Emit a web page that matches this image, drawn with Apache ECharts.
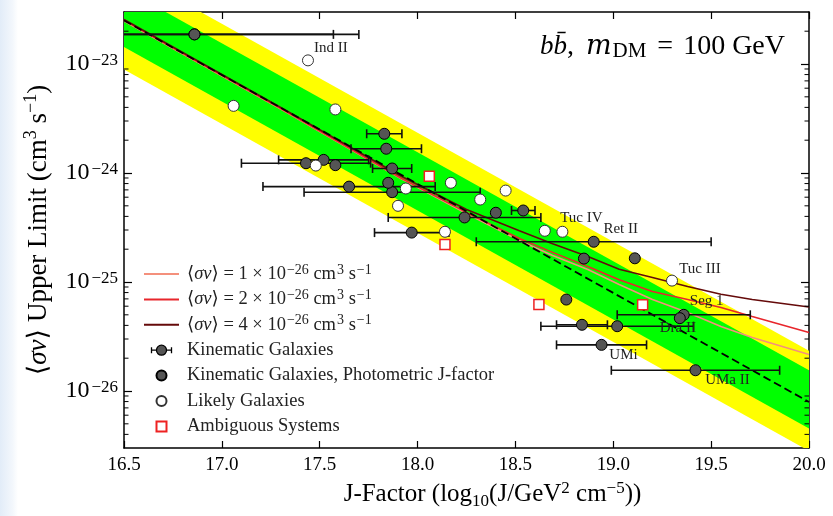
<!DOCTYPE html>
<html>
<head>
<meta charset="utf-8">
<script src="https://cdn.jsdelivr.net/npm/echarts@6/dist/echarts.min.js"></script>
<style>
  html, body { margin: 0; padding: 0; background: #ffffff; }
  #chart { width: 833px; height: 516px; }
</style>
</head>
<body>
<div id="chart"></div>
<script>
// ---- J-factor axis (log10 J / GeV^2 cm^-5) ----
const jMin = 16.5, jMax = 20.0, jStep = 0.5;
// ---- <sigma v> axis (cm^3 s^-1) ----
const svMin = 3e-27, svMax = 3e-23;

// Expected sensitivity bands: values at the two J-factor ends
const bandJ          = [16.5, 20.0];
const yellowUpper    = [7.4e-23, 2.34e-26];
const greenUpper     = [4.9e-23, 1.55e-26];
const medianExpected = [2.51e-23, 7.94e-27];
const greenLower     = [1.43e-23, 4.52e-27];
const yellowLower    = [8.9e-24, 2.82e-27];

// Cross-section curves sampled along J
const curveJ   = [16.5, 17.31, 17.91, 18.25, 18.52, 18.69, 18.87, 19.03, 19.2, 19.38, 19.55, 19.71, 20.0];
const curveSv1 = [2.48e-23, 3.78e-24, 8.99e-25, 4.25e-25, 2.40e-25, 1.75e-25, 1.30e-25, 9.48e-26, 6.90e-26, 5.25e-26, 3.91e-26, 3.10e-26, 2.16e-26];
const curveSv2 = [2.52e-23, 3.83e-24, 9.10e-25, 4.35e-25, 2.51e-25, 1.87e-25, 1.39e-25, 1.05e-25, 8.18e-26, 6.90e-26, 5.83e-26, 4.82e-26, 3.44e-26];
const curveSv4 = [2.56e-23, 3.91e-24, 9.48e-25, 4.62e-25, 2.95e-25, 2.24e-25, 1.71e-25, 1.31e-25, 1.10e-25, 9.10e-26, 7.71e-26, 6.92e-26, 5.90e-26];

// Kinematic galaxies (with J-factor uncertainties)
const kinJ    = [16.86, 16.86, 17.43, 17.52, 17.65, 17.83, 17.84, 17.87, 17.87, 17.97, 18.24, 18.54, 18.84, 18.90, 18.94, 19.02, 19.36, 19.42];
const kinSv   = [1.87e-23, 1.87e-23, 1.23e-24, 1.32e-24, 7.5e-25, 2.29e-24, 1.67e-24, 1.10e-24, 6.67e-25, 2.84e-25, 3.91e-25, 4.53e-25, 4.05e-26, 2.34e-25, 2.65e-26, 3.93e-26, 5.0e-26, 1.55e-26];
const kinJErr = [0.71, 0.84, 0.33, 0.23, 0.44, 0.09, 0.18, 0.10, 0.45, 0.19, 0.39, 0.06, 0.13, 0.60, 0.23, 0.39, 0.34, 0.43];
const kinNames = ['', '', '', '', '', '', '', '', '', '', '', '', '', 'Ret II', 'UMi', '', 'Seg 1', 'UMa II'];

// Kinematic galaxies with photometric J-factor
const photJ  = [17.58, 17.85, 18.40, 18.85, 19.11, 18.76, 19.34];
const photSv = [1.18e-24, 8.13e-25, 4.32e-25, 1.64e-25, 1.65e-25, 6.9e-26, 4.66e-26];
const photNames = ['', '', '', '', '', '', 'Dra II'];

// Likely galaxies
const likJ  = [17.44, 17.06, 17.58, 17.48, 17.94, 17.90, 18.17, 18.45, 18.32, 18.14, 18.65, 18.74, 19.30];
const likSv = [1.08e-23, 4.13e-24, 3.83e-24, 1.17e-24, 7.21e-25, 5.0e-25, 8.13e-25, 6.9e-25, 5.71e-25, 2.89e-25, 2.95e-25, 2.89e-25, 1.03e-25];
const likNames = ['Ind II', '', '', '', '', '', '', '', '', '', '', 'Tuc IV', 'Tuc III'];

// Ambiguous systems
const ambJ  = [18.06, 18.14, 18.62, 19.15];
const ambSv = [9.35e-25, 2.21e-25, 6.22e-26, 6.18e-26];

// ---- styling ----
const SERIF = "'Liberation Serif', 'DejaVu Serif', serif";
const labelOffsets = {
  'Ind II': [23, -12], 'Tuc IV': [19, -14], 'Ret II': [27, -13], 'Tuc III': [28, -12],
  'Seg 1': [23, -14], 'Dra II': [-2, 10], 'UMi': [22, 10], 'UMa II': [32, 10]
};
const C1 = '#f4907c', C2 = '#e8262c', C4 = '#650a0a';

const legendRich = {
  'sv1': '⟨{i|σv}⟩ = 1 × 10{s|−26} cm{s|3} s{s|−1}',
  'sv2': '⟨{i|σv}⟩ = 2 × 10{s|−26} cm{s|3} s{s|−1}',
  'sv4': '⟨{i|σv}⟩ = 4 × 10{s|−26} cm{s|3} s{s|−1}'
};
const lineIcon = 'path://M0,0H35V2H0Z';

function pts(xs, ys, names) {
  return xs.map((x, i) => {
    const item = { value: [x, ys[i]] };
    const nm = names && names[i];
    if (nm) {
      item.label = { show: true, formatter: nm, position: 'inside', offset: labelOffsets[nm],
        fontFamily: SERIF, fontSize: 15, color: '#222' };
    }
    return item;
  });
}

// minor tick positions on the log axis (2..9 x 10^n)
const minorTicks = [];
for (let n = -27; n <= -23; n++) {
  for (let k = 2; k <= 9; k++) {
    const v = k * Math.pow(10, n);
    if (v > svMin * 1.0001 && v < svMax * 0.9999) minorTicks.push(v);
  }
}

const chart = echarts.init(document.getElementById('chart'), null, { renderer: 'canvas' });

const axisLineStyle = { color: '#000', width: 1.5 };
const yLabelFormatter = v => {
  const e = Math.round(Math.log10(v));
  if (Math.abs(v / Math.pow(10, e) - 1) > 1e-6) return '';
  return '{b|10}{s|−' + (-e) + '}';
};

const option = {
  animation: false,
  backgroundColor: '#ffffff',
  grid: { left: 124, right: 24, top: 12, bottom: 68, show: false },
  graphic: [
    {
      type: 'rect', left: 0, top: 0, z: -10, silent: true,
      shape: { width: 18, height: 516 },
      style: { fill: { type: 'linear', x: 0, y: 0, x2: 1, y2: 0,
        colorStops: [{ offset: 0, color: '#e2ecf8' }, { offset: 0.7, color: '#f3f7fc' }, { offset: 1, color: '#ffffff' }] } }
    },
    {
      type: 'text', z: 100, silent: true,
      style: {
        x: 785, y: 47, align: 'right', verticalAlign: 'middle',
        text: '{i|bb\u0304}{n|,}{gap| }{m|m}{sub|DM}{eq|=}{n|100 GeV}',
        rich: {
          i: { fontFamily: SERIF, fontStyle: 'italic', fontSize: 27, lineHeight: 30, color: '#000' },
          m: { fontFamily: "'DejaVu Serif', serif", fontStyle: 'italic', fontSize: 27, lineHeight: 30, color: '#000', padding: [0, 1, 0, 0] },
          n: { fontFamily: SERIF, fontSize: 28, lineHeight: 30, color: '#000' },
          eq: { fontFamily: SERIF, fontSize: 28, lineHeight: 30, color: '#000', padding: [0, 10, 0, 0] },
          gap: { fontSize: 28, width: 12 },
          sub: { fontFamily: SERIF, fontSize: 21, lineHeight: 20, verticalAlign: 'bottom', color: '#000', padding: [0, 11, 0, 0] }
        }
      }
    }
  ],
  legend: {
    orient: 'vertical', left: 139, top: 258,
    itemWidth: 35, itemHeight: 10, itemGap: 3.4,
    selectedMode: false,
    textStyle: {
      fontFamily: SERIF, fontSize: 18.5, lineHeight: 22, color: '#222', padding: [0, 0, 0, 3],
      rich: {
        i: { fontFamily: SERIF, fontStyle: 'italic', fontSize: 18.5, lineHeight: 22, color: '#222' },
        s: { fontFamily: SERIF, fontSize: 14, lineHeight: 14, verticalAlign: 'top', color: '#222', padding: [0, 0, 0, 1] }
      }
    },
    formatter: name => legendRich[name] || name,
    data: [
      { name: 'sv1', icon: lineIcon, itemStyle: { color: C1 } },
      { name: 'sv2', icon: lineIcon, itemStyle: { color: C2 } },
      { name: 'sv4', icon: lineIcon, itemStyle: { color: C4 } },
      { name: 'Kinematic Galaxies',
        icon: 'path://M0,2L0,8M0,5L5,5M15,5L20,5M20,2L20,8M15,5A5,5,0,1,1,5,5A5,5,0,1,1,15,5Z',
        itemStyle: { color: '#555555', borderColor: '#000', borderWidth: 1.3 } },
      { name: 'Kinematic Galaxies, Photometric J-factor', icon: 'circle' },
      { name: 'Likely Galaxies', icon: 'circle' },
      { name: 'Ambiguous Systems', icon: 'path://M0,0H10V10H0Z' }
    ]
  },
  xAxis: [
    {
      type: 'value', position: 'bottom', min: jMin, max: jMax, interval: jStep,
      axisLine: { show: true, onZero: false, lineStyle: axisLineStyle },
      axisTick: { show: true, inside: true, length: 7, lineStyle: { color: '#000', width: 1.2 } },
      axisLabel: { margin: 8, fontFamily: SERIF, fontSize: 19, color: '#000', formatter: v => v.toFixed(1) },
      splitLine: { show: false },
      name: 'J-Factor (log{sub|10}(J/GeV{sup|2} cm{sup|−5}))',
      nameLocation: 'middle', nameGap: 30,
      nameTextStyle: {
        fontFamily: SERIF, fontSize: 25, color: '#000', lineHeight: 30, padding: [0, 0, 0, 52],
        rich: {
          sub: { fontFamily: SERIF, fontSize: 17, lineHeight: 17, verticalAlign: 'bottom', color: '#000' },
          sup: { fontFamily: SERIF, fontSize: 17, lineHeight: 17, verticalAlign: 'top', color: '#000' }
        }
      }
    },
    {
      type: 'value', position: 'top', min: jMin, max: jMax, interval: jStep,
      axisLine: { show: true, onZero: false, lineStyle: axisLineStyle },
      axisTick: { show: true, inside: true, length: 7, lineStyle: { color: '#000', width: 1.2 } },
      axisLabel: { show: false }, splitLine: { show: false }
    }
  ],
  yAxis: [
    {
      type: 'log', logBase: 10, position: 'left', min: svMin, max: svMax,
      axisLine: { show: true, onZero: false, lineStyle: axisLineStyle },
      axisTick: { show: true, inside: true, length: 8, lineStyle: { color: '#000', width: 1.2 } },
      axisLabel: {
        margin: 6, formatter: yLabelFormatter, showMinLabel: false, showMaxLabel: false,
        rich: {
          b: { fontFamily: SERIF, fontSize: 24, lineHeight: 24, verticalAlign: 'bottom', color: '#000' },
          s: { fontFamily: SERIF, fontSize: 17, lineHeight: 20, verticalAlign: 'top', color: '#000', padding: [0, 0, 0, 2] }
        }
      },
      splitLine: { show: false },
      name: '⟨{i|σv}⟩ Upper Limit (cm{sup|3} s{sup|−1})',
      nameLocation: 'middle', nameRotate: 90, nameGap: 62,
      nameTextStyle: {
        fontFamily: SERIF, fontSize: 27, color: '#000', lineHeight: 32,
        rich: {
          i: { fontFamily: SERIF, fontStyle: 'italic', fontSize: 27, lineHeight: 32, color: '#000' },
          sup: { fontFamily: SERIF, fontSize: 18, lineHeight: 18, verticalAlign: 'top', color: '#000' }
        }
      }
    },
    {
      type: 'log', logBase: 10, position: 'right', min: svMin, max: svMax,
      axisLine: { show: true, onZero: false, lineStyle: axisLineStyle },
      axisTick: { show: true, inside: true, length: 8, lineStyle: { color: '#000', width: 1.2 } },
      axisLabel: { show: false }, splitLine: { show: false }
    }
  ],
  series: [
    {
      // 68% / 95% expectation bands
      type: 'custom', name: 'bands', coordinateSystem: 'cartesian2d', clip: true, silent: true, z: 1,
      data: [[jMin, svMin]],
      renderItem: (params, api) => {
        const poly = (lo, hi, color) => {
          const p = [];
          bandJ.forEach((j, i) => p.push(api.coord([j, hi[i]])));
          for (let i = bandJ.length - 1; i >= 0; i--) p.push(api.coord([bandJ[i], lo[i]]));
          return { type: 'polygon', shape: { points: p }, style: { fill: color } };
        };
        return { type: 'group', children: [
          poly(yellowLower, yellowUpper, '#ffff00'),
          poly(greenLower, greenUpper, '#00ff00')
        ] };
      }
    },
    {
      // minor ticks of the log axis, left and right frame
      type: 'custom', name: 'minorTicks', coordinateSystem: 'cartesian2d', silent: true, z: 20,
      data: minorTicks.map(v => [jMin, v]),
      renderItem: (params, api) => {
        const cs = params.coordSys;
        const y = api.coord([jMin, api.value(1)])[1];
        const st = { stroke: '#000', lineWidth: 1 };
        return { type: 'group', children: [
          { type: 'line', shape: { x1: cs.x, y1: y, x2: cs.x + 4.5, y2: y }, style: st },
          { type: 'line', shape: { x1: cs.x + cs.width, y1: y, x2: cs.x + cs.width - 4.5, y2: y }, style: st }
        ] };
      }
    },
    {
      name: 'sv1', type: 'line', z: 3, symbol: 'none', clip: true,
      lineStyle: { color: C1, width: 1.6 }, itemStyle: { color: C1 },
      data: curveJ.map((j, i) => [j, curveSv1[i]])
    },
    {
      name: 'sv2', type: 'line', z: 3, symbol: 'none', clip: true,
      lineStyle: { color: C2, width: 1.6 }, itemStyle: { color: C2 },
      data: curveJ.map((j, i) => [j, curveSv2[i]])
    },
    {
      name: 'sv4', type: 'line', z: 3, symbol: 'none', clip: true,
      lineStyle: { color: C4, width: 1.6 }, itemStyle: { color: C4 },
      data: curveJ.map((j, i) => [j, curveSv4[i]])
    },
    {
      name: 'median', type: 'line', z: 3, symbol: 'none', clip: true,
      lineStyle: { color: '#000', width: 1.8, type: [8, 4] },
      data: bandJ.map((j, i) => [j, medianExpected[i]])
    },
    {
      // horizontal J-factor error bars
      type: 'custom', name: 'jErrors', coordinateSystem: 'cartesian2d', clip: true, silent: true, z: 4,
      data: kinJ.map((j, i) => [j, kinSv[i], j - kinJErr[i], j + kinJErr[i]]),
      encode: { x: [0, 2, 3], y: 1 },
      renderItem: (params, api) => {
        const sv = api.value(1);
        const a = api.coord([api.value(2), sv]);
        const b = api.coord([api.value(3), sv]);
        const h = 4.5;
        const st = { stroke: '#111', lineWidth: 1.6 };
        return { type: 'group', children: [
          { type: 'line', shape: { x1: a[0], y1: a[1], x2: b[0], y2: b[1] }, style: st },
          { type: 'line', shape: { x1: a[0], y1: a[1] - h, x2: a[0], y2: a[1] + h }, style: st },
          { type: 'line', shape: { x1: b[0], y1: b[1] - h, x2: b[0], y2: b[1] + h }, style: st }
        ] };
      }
    },
    {
      name: 'Kinematic Galaxies', type: 'scatter', z: 6, symbol: 'circle', symbolSize: 11,
      itemStyle: { color: '#555555', borderColor: '#000', borderWidth: 1, opacity: 1 },
      data: pts(kinJ, kinSv, kinNames)
    },
    {
      name: 'Kinematic Galaxies, Photometric J-factor', type: 'scatter', z: 6, symbol: 'circle', symbolSize: 11,
      itemStyle: { color: '#555555', borderColor: '#000', borderWidth: 1, opacity: 1 },
      data: pts(photJ, photSv, photNames)
    },
    {
      name: 'Likely Galaxies', type: 'scatter', z: 6, symbol: 'circle', symbolSize: 11,
      itemStyle: { color: '#ffffff', borderColor: '#333', borderWidth: 1, opacity: 1 },
      data: pts(likJ, likSv, likNames)
    },
    {
      name: 'Ambiguous Systems', type: 'scatter', z: 6, symbol: 'rect', symbolSize: 10,
      itemStyle: { color: '#ffffff', borderColor: '#ee2222', borderWidth: 1.5, opacity: 1 },
      data: pts(ambJ, ambSv, null)
    }
  ]
};

chart.setOption(option);
</script>
</body>
</html>
